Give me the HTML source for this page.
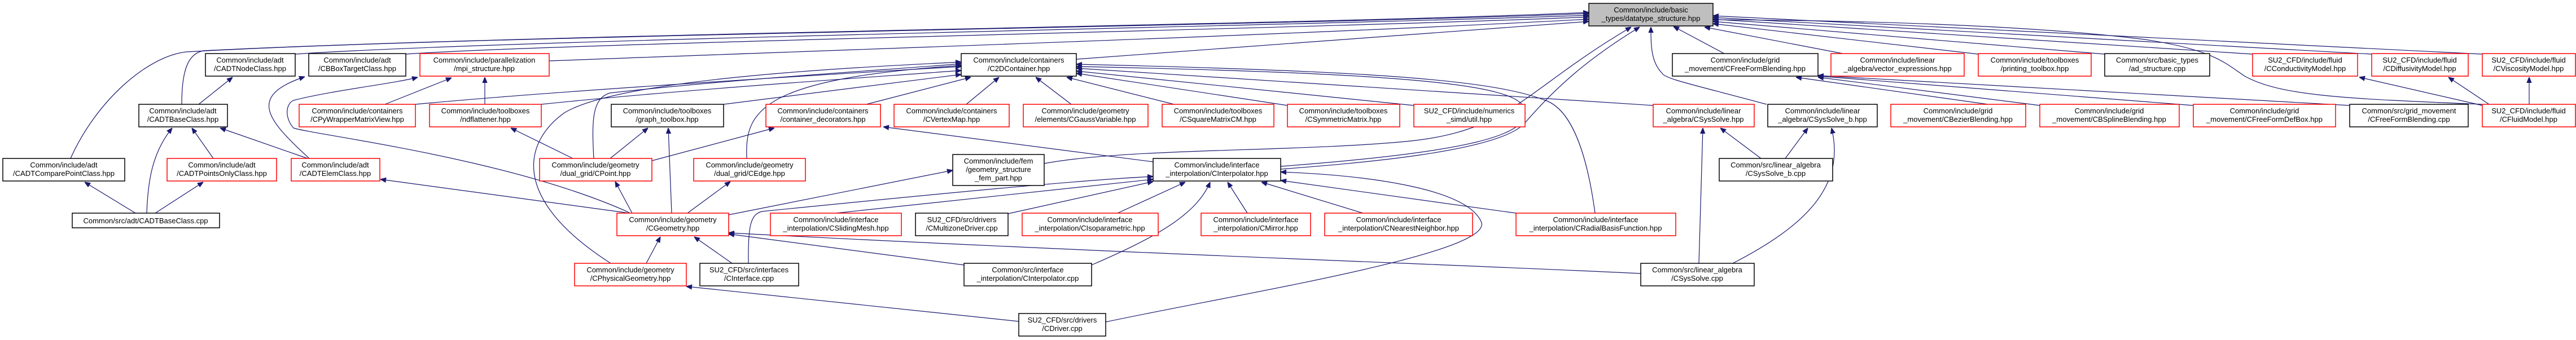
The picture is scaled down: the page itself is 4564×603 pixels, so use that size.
<!DOCTYPE html>
<html><head><meta charset="utf-8"><style>
html,body{margin:0;padding:0;background:#fff;}
svg{display:block;}
text{font-family:"Liberation Sans",sans-serif;font-size:13px;fill:#000;text-anchor:middle;}
.b{fill:#fff;stroke:#000;stroke-width:1.5;}
.r{fill:#fff;stroke:#f00;stroke-width:1.5;}
.g{fill:#bfbfbf;stroke:#000;stroke-width:1.5;}
path{fill:none;stroke:#191970;stroke-width:1.2;marker-end:url(#a);}
</style></head><body>
<svg width="4564" height="603" viewBox="0 0 4564 603" xmlns="http://www.w3.org/2000/svg">
<defs><marker id="a" viewBox="0 0 10 10" refX="10" refY="5" markerWidth="10" markerHeight="10" markerUnits="userSpaceOnUse" orient="auto"><path d="M0,1 L10,5 L0,9 z" style="fill:#191970;stroke:#191970;marker-end:none"/></marker></defs>

<!-- edges -->
<path d="M125,281 C170,180 260,100 330,92 C900,60 2300,45 2815,22"/>
<path d="M322,185 C322,120 335,95 360,90 C900,62 2300,45 2815,24"/>
<path d="M523,96 C900,70 2300,46 2815,27"/>
<path d="M719,96 C1000,76 2300,52 2815,30"/>
<path d="M973,108 C1500,88 2300,62 2815,34"/>
<path d="M1907,105 C2300,78 2600,56 2815,38"/>
<path d="M352,185 L412,137"/>
<path d="M240,378 L150,323"/>
<path d="M260,378 C262,320 270,270 305,227"/>
<path d="M275,378 L360,323"/>
<path d="M378,281 L340,227"/>
<path d="M545,281 L390,227"/>
<path d="M548,281 C470,210 440,170 540,136"/>
<path d="M1115,378 L674,318"/>
<path d="M1115,377 C900,280 560,240 520,227 C505,210 505,185 520,178 C590,160 700,148 740,137"/>
<path d="M682,185 L800,138"/>
<path d="M859,185 L859,137"/>
<path d="M736,185 C1000,160 1500,130 1703,118"/>
<path d="M959,185 C1200,160 1500,140 1703,125"/>
<path d="M1015,281 L905,227"/>
<path d="M1081,281 L1148,227"/>
<path d="M1052,281 C1048,210 1050,175 1080,165 C1300,140 1600,122 1703,113"/>
<path d="M1082,467 C900,350 930,250 1000,200 C1100,140 1500,120 1703,110"/>
<path d="M1282,185 L1703,132"/>
<path d="M1323,281 C1320,200 1340,140 1703,116"/>
<path d="M1120,378 L1090,322"/>
<path d="M1190,378 L1184,227"/>
<path d="M1218,378 L1294,322"/>
<path d="M1155,285 L1372,227"/>
<path d="M1291,381 L1688,302"/>
<path d="M1850,290 C2000,262 2300,270 2500,250 C2680,230 2700,160 2890,48"/>
<path d="M2269,300 C2400,290 2650,270 2700,220 C2760,150 2820,100 2905,48"/>
<path d="M2269,295 C2600,270 2720,240 2700,190 C2680,150 2500,130 1907,118"/>
<path d="M2043,287 L1565,225"/>
<path d="M1535,185 L1720,137"/>
<path d="M1712,185 L1770,137"/>
<path d="M1898,185 L1835,137"/>
<path d="M2080,185 L1890,137"/>
<path d="M2281,187 L1907,130"/>
<path d="M2505,187 L1907,126"/>
<path d="M2929,187 L1907,121"/>
<path d="M2826,378 C2810,260 2780,190 2735,177 C2640,140 2400,125 1907,114"/>
<path d="M1481,378 L2043,318"/>
<path d="M1786,379 L2043,322"/>
<path d="M1980,378 L2100,323"/>
<path d="M2210,378 L2175,323"/>
<path d="M2415,378 L2235,323"/>
<path d="M2700,380 L2269,320"/>
<path d="M1934,470 C2050,420 2120,380 2144,323"/>
<path d="M1326,467 C1325,400 1330,380 1350,375 C1600,350 1900,320 2043,313"/>
<path d="M1959,571 C2200,520 2640,450 2625,395 C2600,330 2400,310 2269,305"/>
<path d="M1297,467 L1230,420"/>
<path d="M1708,470 L1291,415"/>
<path d="M2907,485 C2600,470 2000,450 1291,413"/>
<path d="M1145,467 L1170,420"/>
<path d="M1805,570 L1216,508"/>
<path d="M3010,467 L3017,227"/>
<path d="M3070,467 C3200,400 3270,330 3245,227"/>
<path d="M3120,281 L3048,227"/>
<path d="M3163,281 L3203,227"/>
<path d="M3130,185 C3000,150 2950,140 2945,130 C2925,110 2925,80 2925,48"/>
<path d="M3055,95 L2965,47"/>
<path d="M3265,95 L3020,48"/>
<path d="M3505,96 L3035,42"/>
<path d="M3729,96 L3035,38"/>
<path d="M3991,96 L3035,34"/>
<path d="M4202,96 L3035,31"/>
<path d="M4398,96 L3035,28"/>
<path d="M4398,185 C4153,175 4040,170 3977,135 C3940,110 3919,88 3800,70 C3600,45 3300,36 3035,35"/>
<path d="M3522,185 L3182,137"/>
<path d="M3614,187 L3221,137"/>
<path d="M3886,187 L3221,135"/>
<path d="M4163,187 L3221,134"/>
<path d="M4398,187 L4180,137"/>
<path d="M4410,185 L4338,137"/>
<path d="M4481,185 L4481,137"/>

<!-- nodes -->
<rect class="g" x="2815" y="6" width="220" height="40"/><text x="2925" y="22">Common/include/basic</text><text x="2925" y="37">_types/datatype_structure.hpp</text>

<rect class="b" x="364" y="95" width="159" height="40"/><text x="443" y="111">Common/include/adt</text><text x="443" y="126">/CADTNodeClass.hpp</text>
<rect class="b" x="547" y="95" width="172" height="40"/><text x="633" y="111">Common/include/adt</text><text x="633" y="126">/CBBoxTargetClass.hpp</text>
<rect class="r" x="744" y="95" width="229" height="40"/><text x="858" y="111">Common/include/parallelization</text><text x="858" y="126">/mpi_structure.hpp</text>
<rect class="b" x="1703" y="95" width="204" height="40"/><text x="1805" y="111">Common/include/containers</text><text x="1805" y="126">/C2DContainer.hpp</text>
<rect class="b" x="2963" y="95" width="258" height="40"/><text x="3092" y="111">Common/include/grid</text><text x="3092" y="126">_movement/CFreeFormBlending.hpp</text>
<rect class="r" x="3244" y="95" width="236" height="40"/><text x="3362" y="111">Common/include/linear</text><text x="3362" y="126">_algebra/vector_expressions.hpp</text>
<rect class="r" x="3505" y="95" width="200" height="40"/><text x="3605" y="111">Common/include/toolboxes</text><text x="3605" y="126">/printing_toolbox.hpp</text>
<rect class="b" x="3729" y="95" width="186" height="40"/><text x="3822" y="111">Common/src/basic_types</text><text x="3822" y="126">/ad_structure.cpp</text>
<rect class="r" x="3991" y="95" width="186" height="40"/><text x="4084" y="111">SU2_CFD/include/fluid</text><text x="4084" y="126">/CConductivityModel.hpp</text>
<rect class="r" x="4202" y="95" width="171" height="40"/><text x="4287" y="111">SU2_CFD/include/fluid</text><text x="4287" y="126">/CDiffusivityModel.hpp</text>
<rect class="r" x="4398" y="95" width="165" height="40"/><text x="4480" y="111">SU2_CFD/include/fluid</text><text x="4480" y="126">/CViscosityModel.hpp</text>

<rect class="b" x="246" y="185" width="157" height="40"/><text x="324" y="201">Common/include/adt</text><text x="324" y="216">/CADTBaseClass.hpp</text>
<rect class="r" x="530" y="185" width="206" height="40"/><text x="633" y="201">Common/include/containers</text><text x="633" y="216">/CPyWrapperMatrixView.hpp</text>
<rect class="r" x="761" y="185" width="198" height="40"/><text x="860" y="201">Common/include/toolboxes</text><text x="860" y="216">/ndflattener.hpp</text>
<rect class="b" x="1083" y="185" width="199" height="40"/><text x="1182" y="201">Common/include/toolboxes</text><text x="1182" y="216">/graph_toolbox.hpp</text>
<rect class="r" x="1357" y="185" width="203" height="40"/><text x="1458" y="201">Common/include/containers</text><text x="1458" y="216">/container_decorators.hpp</text>
<rect class="r" x="1584" y="185" width="204" height="40"/><text x="1686" y="201">Common/include/containers</text><text x="1686" y="216">/CVertexMap.hpp</text>
<rect class="r" x="1813" y="185" width="221" height="40"/><text x="1923" y="201">Common/include/geometry</text><text x="1923" y="216">/elements/CGaussVariable.hpp</text>
<rect class="r" x="2059" y="185" width="198" height="40"/><text x="2158" y="201">Common/include/toolboxes</text><text x="2158" y="216">/CSquareMatrixCM.hpp</text>
<rect class="r" x="2281" y="185" width="199" height="40"/><text x="2380" y="201">Common/include/toolboxes</text><text x="2380" y="216">/CSymmetricMatrix.hpp</text>
<rect class="r" x="2505" y="185" width="197" height="40"/><text x="2603" y="201">SU2_CFD/include/numerics</text><text x="2603" y="216">_simd/util.hpp</text>
<rect class="r" x="2929" y="185" width="179" height="40"/><text x="3018" y="201">Common/include/linear</text><text x="3018" y="216">_algebra/CSysSolve.hpp</text>
<rect class="b" x="3132" y="185" width="194" height="40"/><text x="3229" y="201">Common/include/linear</text><text x="3229" y="216">_algebra/CSysSolve_b.hpp</text>
<rect class="r" x="3350" y="185" width="239" height="40"/><text x="3469" y="201">Common/include/grid</text><text x="3469" y="216">_movement/CBezierBlending.hpp</text>
<rect class="r" x="3614" y="185" width="247" height="40"/><text x="3737" y="201">Common/include/grid</text><text x="3737" y="216">_movement/CBSplineBlending.hpp</text>
<rect class="r" x="3886" y="185" width="252" height="40"/><text x="4012" y="201">Common/include/grid</text><text x="4012" y="216">_movement/CFreeFormDefBox.hpp</text>
<rect class="b" x="4163" y="185" width="210" height="40"/><text x="4268" y="201">Common/src/grid_movement</text><text x="4268" y="216">/CFreeFormBlending.cpp</text>
<rect class="r" x="4398" y="185" width="165" height="40"/><text x="4480" y="201">SU2_CFD/include/fluid</text><text x="4480" y="216">/CFluidModel.hpp</text>

<rect class="b" x="5" y="281" width="216" height="40"/><text x="113" y="297">Common/include/adt</text><text x="113" y="312">/CADTComparePointClass.hpp</text>
<rect class="r" x="296" y="281" width="194" height="40"/><text x="393" y="297">Common/include/adt</text><text x="393" y="312">/CADTPointsOnlyClass.hpp</text>
<rect class="r" x="516" y="281" width="157" height="40"/><text x="594" y="297">Common/include/adt</text><text x="594" y="312">/CADTElemClass.hpp</text>
<rect class="r" x="956" y="281" width="199" height="40"/><text x="1055" y="297">Common/include/geometry</text><text x="1055" y="312">/dual_grid/CPoint.hpp</text>
<rect class="r" x="1229" y="281" width="198" height="40"/><text x="1328" y="297">Common/include/geometry</text><text x="1328" y="312">/dual_grid/CEdge.hpp</text>
<rect class="b" x="1688" y="274" width="162" height="55"/><text x="1769" y="290">Common/include/fem</text><text x="1769" y="305">/geometry_structure</text><text x="1769" y="320">_fem_part.hpp</text>
<rect class="b" x="2043" y="281" width="226" height="40"/><text x="2156" y="297">Common/include/interface</text><text x="2156" y="312">_interpolation/CInterpolator.hpp</text>
<rect class="b" x="3046" y="281" width="201" height="40"/><text x="3146" y="297">Common/src/linear_algebra</text><text x="3146" y="312">/CSysSolve_b.cpp</text>

<rect class="b" x="128" y="378" width="261" height="26"/><text x="258" y="396">Common/src/adt/CADTBaseClass.cpp</text>
<rect class="r" x="1093" y="378" width="198" height="40"/><text x="1192" y="394">Common/include/geometry</text><text x="1192" y="409">/CGeometry.hpp</text>
<rect class="r" x="1365" y="378" width="232" height="40"/><text x="1481" y="394">Common/include/interface</text><text x="1481" y="409">_interpolation/CSlidingMesh.hpp</text>
<rect class="b" x="1622" y="378" width="164" height="40"/><text x="1704" y="394">SU2_CFD/src/drivers</text><text x="1704" y="409">/CMultizoneDriver.cpp</text>
<rect class="r" x="1811" y="378" width="241" height="40"/><text x="1931" y="394">Common/include/interface</text><text x="1931" y="409">_interpolation/CIsoparametric.hpp</text>
<rect class="r" x="2128" y="378" width="194" height="40"/><text x="2225" y="394">Common/include/interface</text><text x="2225" y="409">_interpolation/CMirror.hpp</text>
<rect class="r" x="2347" y="378" width="262" height="40"/><text x="2478" y="394">Common/include/interface</text><text x="2478" y="409">_interpolation/CNearestNeighbor.hpp</text>
<rect class="r" x="2686" y="378" width="283" height="40"/><text x="2827" y="394">Common/include/interface</text><text x="2827" y="409">_interpolation/CRadialBasisFunction.hpp</text>

<rect class="r" x="1018" y="467" width="198" height="40"/><text x="1117" y="483">Common/include/geometry</text><text x="1117" y="498">/CPhysicalGeometry.hpp</text>
<rect class="b" x="1240" y="467" width="175" height="40"/><text x="1327" y="483">SU2_CFD/src/interfaces</text><text x="1327" y="498">/CInterface.cpp</text>
<rect class="b" x="1708" y="467" width="226" height="40"/><text x="1821" y="483">Common/src/interface</text><text x="1821" y="498">_interpolation/CInterpolator.cpp</text>
<rect class="b" x="2907" y="467" width="201" height="40"/><text x="3007" y="483">Common/src/linear_algebra</text><text x="3007" y="498">/CSysSolve.cpp</text>

<rect class="b" x="1805" y="556" width="154" height="40"/><text x="1882" y="572">SU2_CFD/src/drivers</text><text x="1882" y="587">/CDriver.cpp</text>
</svg>
</body></html>
